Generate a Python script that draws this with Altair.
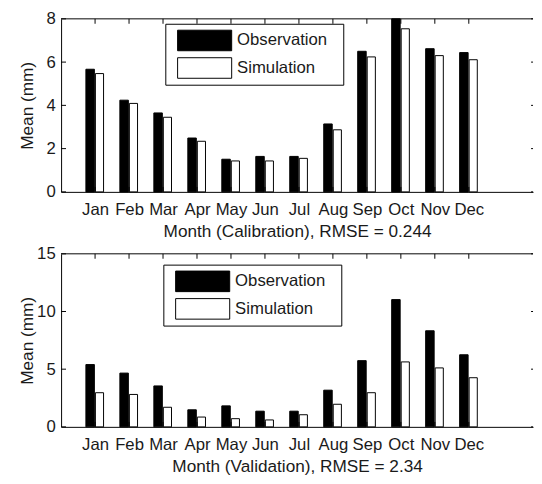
import altair as alt
import pandas as pd

months = ["Jan", "Feb", "Mar", "Apr", "May", "Jun", "Jul", "Aug", "Sep", "Oct", "Nov", "Dec"]
series = ["Observation", "Simulation"]

cal_obs = [5.67, 4.24, 3.65, 2.49, 1.51, 1.64, 1.64, 3.14, 6.50, 8.00, 6.62, 6.44]
cal_sim = [5.47, 4.09, 3.45, 2.34, 1.43, 1.43, 1.55, 2.87, 6.24, 7.54, 6.30, 6.11]
val_obs = [5.40, 4.66, 3.55, 1.48, 1.82, 1.36, 1.36, 3.18, 5.74, 11.03, 8.33, 6.25]
val_sim = [2.96, 2.81, 1.70, 0.85, 0.71, 0.60, 1.05, 1.96, 2.96, 5.63, 5.11, 4.26]

cal_yticks = [0, 2, 4, 6, 8]
val_yticks = [0, 5, 10, 15]
cal_title = "Month (Calibration), RMSE = 0.244"
val_title = "Month (Validation), RMSE = 2.34"
y_title = "Mean (mm)"

W = 480
H = 176
X_MAX = 13.89
FONT = "Liberation Sans"
TXT = "#1a1a1a"


def panel(obs, sim, yticks, ymax, xtitle, lx, ly, ytpad):
    idx = list(range(1, 13))
    bars = pd.DataFrame({
        "m": idx * 2,
        "month": months * 2,
        "series": [series[0]] * 12 + [series[1]] * 12,
        "value": obs + sim,
    })
    mdf = pd.DataFrame({"m": idx})
    ydf = pd.DataFrame({"t": yticks})
    one = pd.DataFrame({"a": [0]})
    xscale = alt.Scale(domain=[0, X_MAX], nice=False, zero=False)
    yscale = alt.Scale(domain=[0, ymax], nice=False)
    label_expr = "[" + ",".join(f"'{m}'" for m in months) + "][datum.value - 1]"
    xaxis = alt.Axis(values=idx, labelExpr=label_expr, title=xtitle,
                     ticks=False, grid=False, labelFlush=False,
                     labelPadding=10, titlePadding=5, labelOverlap=False)
    yaxis = alt.Axis(values=yticks, title=y_title, ticks=False, grid=False,
                     labelPadding=6, titlePadding=ytpad)

    b = alt.Chart(bars).transform_calculate(
        x1="datum.series == 'Observation' ? datum.m - 0.27 : datum.m + 0.01",
        x2="datum.series == 'Observation' ? datum.m - 0.02 : datum.m + 0.25",
    ).mark_rect(stroke="black", strokeWidth=1).encode(
        x=alt.X("x1:Q", scale=xscale, axis=xaxis),
        x2="x2:Q",
        y=alt.Y("value:Q", scale=yscale, axis=yaxis),
        y2=alt.datum(0),
        fill=alt.Fill("series:N", scale=alt.Scale(domain=series, range=["black", "white"]),
                      legend=alt.Legend(orient="none", legendX=lx, legendY=ly, title=" ",
                                        titleOrient="right", titlePadding=12,
                                        titleFontSize=17, titleFont=FONT,
                                        symbolType="M-1,-0.38H1V0.38H-1Z", symbolSize=3025,
                                        symbolStrokeColor="black", symbolStrokeWidth=1,
                                        symbolOpacity=1, labelFontSize=17, labelFont=FONT,
                                        labelColor=TXT, labelOffset=5, padding=4,
                                        rowPadding=2, clipHeight=26, symbolOffset=8,
                                        strokeColor="black", fillColor="white")),
    )
    top_line = alt.Chart(one).mark_rule(color="black").encode(
        x=alt.value(0), x2=alt.value(W), y=alt.value(0))
    top_ticks = alt.Chart(mdf).mark_rule(color="black").encode(
        x=alt.X("m:Q", scale=xscale, axis=xaxis), y=alt.value(0), y2=alt.value(5))
    bot_ticks = alt.Chart(mdf).mark_rule(color="black").encode(
        x=alt.X("m:Q", scale=xscale, axis=xaxis), y=alt.value(H), y2=alt.value(H - 5))
    left_ticks = alt.Chart(ydf).mark_rule(color="black").encode(
        y=alt.Y("t:Q", scale=yscale, axis=yaxis), x=alt.value(0), x2=alt.value(5))
    right_ticks = alt.Chart(ydf).mark_rule(color="black").encode(
        y=alt.Y("t:Q", scale=yscale, axis=yaxis), x=alt.value(W - 2), x2=alt.value(W))
    return alt.layer(b, top_line, top_ticks, bot_ticks, left_ticks, right_ticks).properties(
        width=W, height=H)


top = panel(cal_obs, cal_sim, cal_yticks, 8, cal_title, 106, 5, 10)
bottom = panel(val_obs, val_sim, val_yticks, 15, val_title, 104, 11, 0.5)

chart = alt.vconcat(top, bottom, spacing=5).resolve_scale(
    x="independent", y="independent", fill="independent"
).resolve_legend(fill="independent").configure_view(stroke=None).configure_axis(
    labelFont=FONT, titleFont=FONT, labelFontSize=17, titleFontSize=17.5,
    labelColor=TXT, titleColor=TXT, domainColor="black", domainWidth=1,
    titleFontWeight="normal",
).properties(padding={"left": 10, "top": -2, "right": 0, "bottom": 0})

chart.save("out.html", embed_options={"renderer": "svg", "actions": False})
